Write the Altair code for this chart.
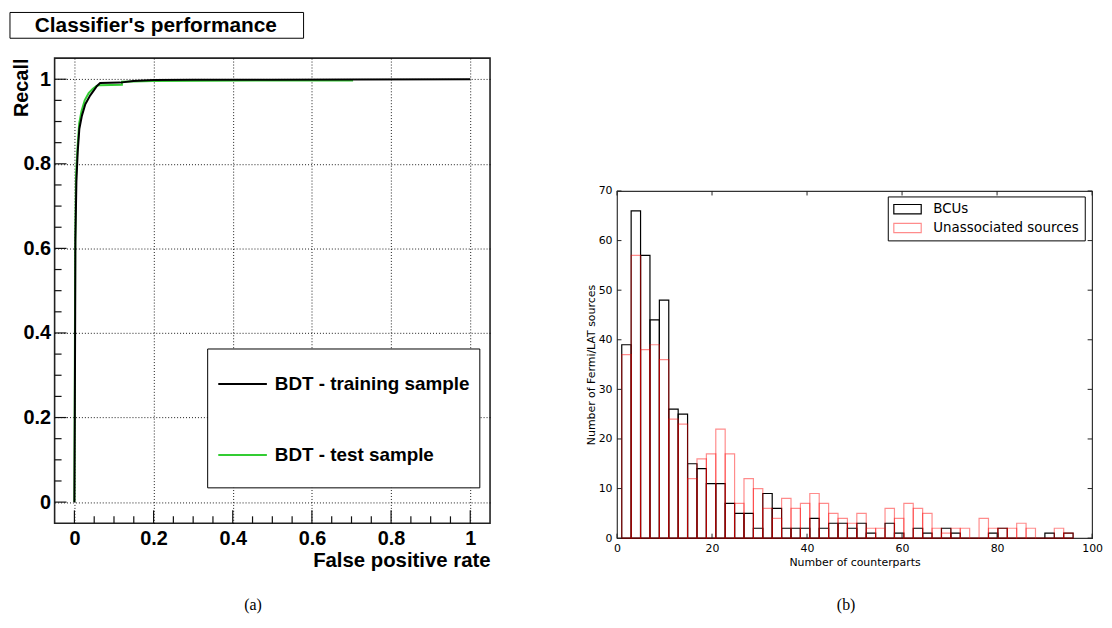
import altair as alt
import pandas as pd

# ---------------- left panel: ROC curves ----------------
title_left = "Classifier's performance"
roc_series = ["BDT - training sample", "BDT - test sample"]
roc_colors = ["#000000", "#33cc33"]

train_fpr = [0.0, 0.001, 0.002, 0.0025, 0.005, 0.0083, 0.0125, 0.019, 0.0275, 0.04, 0.05,
             0.057, 0.065, 0.115, 0.149, 0.2, 0.3, 0.5, 0.7, 1.0]
train_tpr = [0.0, 0.2, 0.45, 0.62, 0.757, 0.828, 0.883, 0.914, 0.941, 0.962, 0.975,
             0.984, 0.991, 0.992, 0.996, 0.998, 0.999, 0.999, 0.9995, 1.0]
test_fpr = [0.0, 0.001, 0.002, 0.004, 0.008, 0.012, 0.018, 0.026, 0.036, 0.046, 0.056,
            0.063, 0.12, 0.12, 0.2, 0.5, 0.704]
test_tpr = [0.0, 0.3, 0.6, 0.77, 0.84, 0.895, 0.925, 0.95, 0.967, 0.977, 0.984,
            0.986, 0.987, 0.994, 0.996, 0.997, 0.997]

roc_major = [0.0, 0.2, 0.4, 0.6, 0.8, 1.0]
roc_minor = [0.05, 0.1, 0.15, 0.25, 0.3, 0.35, 0.45, 0.5, 0.55, 0.65, 0.7, 0.75,
             0.85, 0.9, 0.95]

# ---------------- right panel: histograms ----------------
hist_series = ["BCUs", "Unassociated sources"]
hist_colors = ["#000000", "rgba(255,0,0,0.45)"]
bcu_counts = [39, 66, 57, 44, 48, 26, 25, 15, 14, 11, 11, 7, 5, 5, 2, 9, 6, 2, 2, 2, 4, 2,
              3, 3, 2, 3, 1, 0, 3, 1, 0, 2, 1, 0, 2, 1, 0, 0, 0, 1, 2, 0, 0, 0, 0, 1, 0, 1]
unassoc_counts = [37, 57, 38, 39, 36, 24, 23, 12, 16, 17, 22, 17, 7, 12, 10, 6, 4, 8, 6, 7,
                  9, 7, 5, 4, 3, 5, 2, 2, 6, 4, 7, 6, 5, 2, 1, 2, 2, 0, 4, 2, 2, 2, 3, 2,
                  0, 0, 2, 1]
hist_lo, hist_hi = 1.0, 96.0
hist_xticks = [0, 20, 40, 60, 80, 100]
hist_yticks = [0, 10, 20, 30, 40, 50, 60, 70]
hist_xlabel = "Number of counterparts"
hist_ylabel = "Number of Fermi/LAT sources"
captions = ["(a)", "(b)"]

# ---------------- tables ----------------
roc_rows = []
for i, (a, b) in enumerate(zip(test_fpr, test_tpr)):
    roc_rows.append({"fpr": a, "tpr": b, "series": roc_series[1], "idx": i})
for i, (a, b) in enumerate(zip(train_fpr, train_tpr)):
    roc_rows.append({"fpr": a, "tpr": b, "series": roc_series[0], "idx": i})
df_roc = pd.DataFrame(roc_rows)

nb = len(bcu_counts)
w = (hist_hi - hist_lo) / nb
hist_rows = []
for s, counts in zip(hist_series, [bcu_counts, unassoc_counts]):
    for k, c in enumerate(counts):
        hist_rows.append({"x0": hist_lo + k * w, "x1": hist_lo + (k + 1) * w, "n": c, "series": s})
df_hist = pd.DataFrame(hist_rows)

one = pd.DataFrame({"k": [0]})

# ---------------- left chart ----------------
W1, H1 = 439, 469
LF = "Liberation Sans"
xs1 = alt.Scale(domain=[-0.05, 1.05], nice=False, zero=False)
ys1 = alt.Scale(domain=[-0.05, 1.05], nice=False, zero=False)

xaxis1 = alt.Axis(values=roc_major, format="~g", grid=True, gridColor="black", gridDash=[1, 2],
                  gridOpacity=0.9, gridWidth=1, ticks=False, domain=False,
                  labelFont=LF, labelFontWeight="bold", labelFontSize=20, labelColor="black",
                  labelPadding=5, labelFlush=False, labelOverlap=False,
                  title="False positive rate", titleFont=LF, titleFontWeight="bold",
                  titleFontSize=20.5, titleColor="black", titleAlign="right",
                  titleAnchor="end", titleX=W1, titleY=44, titleBaseline="alphabetic")
yaxis1 = alt.Axis(values=roc_major, format="~g", grid=True, gridColor="black", gridDash=[1, 2],
                  gridOpacity=0.9, gridWidth=1, ticks=False, domain=False,
                  labelFont=LF, labelFontWeight="bold", labelFontSize=20, labelColor="black",
                  labelPadding=4, labelFlush=False, labelOverlap=False,
                  title="Recall", titleFont=LF, titleFontWeight="bold", titleFontSize=20,
                  titleColor="black", titleAngle=270, titleAlign="right", titleX=-27.3,
                  titleY=0, titleBaseline="alphabetic")

leg1 = alt.Legend(orient="none", legendX=164, legendY=303, title=None, padding=0,
                  symbolType="stroke", symbolSize=2401, symbolStrokeWidth=2,
                  labelFont=LF, labelFontWeight="bold", labelFontSize=19, labelColor="black",
                  labelOffset=7, rowPadding=35.7, labelLimit=400)

color1 = alt.Color("series:N", scale=alt.Scale(domain=roc_series, range=roc_colors), legend=leg1)

line_test = alt.Chart(df_roc).transform_filter(alt.datum.series == roc_series[1]).mark_line(
    strokeWidth=2).encode(
    x=alt.X("fpr:Q", scale=xs1, axis=xaxis1), y=alt.Y("tpr:Q", scale=ys1, axis=yaxis1),
    color=color1, order=alt.Order("idx:Q"))
line_train = alt.Chart(df_roc).transform_filter(alt.datum.series == roc_series[0]).mark_line(
    strokeWidth=2).encode(
    x=alt.X("fpr:Q", scale=xs1, axis=xaxis1), y=alt.Y("tpr:Q", scale=ys1, axis=yaxis1),
    color=color1, order=alt.Order("idx:Q"))

def xticks(vals, ln):
    return alt.Chart(pd.DataFrame({"v": vals})).mark_rule(color="#111", strokeWidth=1.2).encode(
        x=alt.X("v:Q", scale=xs1, axis=xaxis1), y=alt.value(H1), y2=alt.value(H1 - ln))

def yticks(vals, ln):
    return alt.Chart(pd.DataFrame({"v": vals})).mark_rule(color="#111", strokeWidth=1.2).encode(
        y=alt.Y("v:Q", scale=ys1, axis=yaxis1), x=alt.value(0), x2=alt.value(ln))

leg_frame1 = alt.Chart(one).mark_rect(fill="white", stroke="black", strokeWidth=1).encode(
    x=alt.value(154.3), x2=alt.value(428.7), y=alt.value(293.3), y2=alt.value(433.3))

title_box = alt.Chart(one).mark_rect(fill="white", stroke="black", strokeWidth=1).encode(
    x=alt.value(-45), x2=alt.value(251), y=alt.value(-46), y2=alt.value(-20))
title_txt = alt.Chart(one).mark_text(text=title_left, font=LF, fontWeight="bold", fontSize=21,
                                     align="center", baseline="middle", color="black").encode(
    x=alt.value(102), y=alt.value(-32.5))
cap_a = alt.Chart(one).mark_text(text=captions[0], font="Liberation Serif", fontSize=16,
                                 align="center", baseline="alphabetic", color="black").encode(
    x=alt.value(200), y=alt.value(556))

left = alt.layer(line_test, line_train, xticks(roc_major, 13), xticks(roc_minor, 7),
                 yticks(roc_major, 12), yticks(roc_minor, 7), leg_frame1,
                 title_box, title_txt, cap_a).properties(
    width=W1, height=H1, view=alt.ViewBackground(stroke="#222", strokeWidth=1.6))

# ---------------- right chart ----------------
W2, H2 = 479, 350
DF = "DejaVu Sans"
xs2 = alt.Scale(domain=[0, 100], nice=False, zero=False)
ys2 = alt.Scale(domain=[0, 70], nice=False, zero=False)

xaxis2 = alt.Axis(values=hist_xticks, ticks=False, domain=False, grid=False,
                  labelFont=DF, labelFontSize=11, labelColor="black", labelPadding=4,
                  labelFlush=False, labelOverlap=False,
                  title=hist_xlabel, titleFont=DF, titleFontSize=11, titleFontWeight="normal",
                  titleColor="black", titleX=W2 / 2, titleY=28, titleAlign="center",
                  titleBaseline="alphabetic")
yaxis2 = alt.Axis(values=hist_yticks, ticks=False, domain=False, grid=False,
                  labelFont=DF, labelFontSize=11, labelColor="black", labelPadding=5,
                  labelFlush=False, labelOverlap=False,
                  title=hist_ylabel, titleFont=DF, titleFontSize=11, titleFontWeight="normal",
                  titleColor="black", titleAngle=270, titleX=-23, titleY=H2 / 2,
                  titleAlign="center", titleBaseline="alphabetic")

leg2 = alt.Legend(orient="none", legendX=282.9, legendY=8.3, title=None, padding=0,
                  symbolType="M-1.47,-0.5H1.47V0.5H-1.47Z", symbolSize=353,
                  symbolStrokeWidth=1.2, symbolFillColor="white",
                  labelFont=DF, labelFontSize=13.5, labelColor="black", labelOffset=16,
                  rowPadding=1, labelLimit=400)

bars = alt.Chart(df_hist).mark_rect(fill="white", fillOpacity=0, strokeWidth=1.2).encode(
    x=alt.X("x0:Q", scale=xs2, axis=xaxis2), x2="x1:Q",
    y=alt.Y("n:Q", scale=ys2, axis=yaxis2), y2=alt.datum(0),
    stroke=alt.Stroke("series:N", scale=alt.Scale(domain=hist_series, range=hist_colors),
                      legend=leg2))

def hx(ybase, ln):
    return alt.Chart(pd.DataFrame({"v": hist_xticks})).mark_rule(color="#222", strokeWidth=1).encode(
        x=alt.X("v:Q", scale=xs2, axis=xaxis2), y=alt.value(ybase), y2=alt.value(ybase + ln))

def hy(xbase, ln):
    return alt.Chart(pd.DataFrame({"v": hist_yticks})).mark_rule(color="#222", strokeWidth=1).encode(
        y=alt.Y("v:Q", scale=ys2, axis=yaxis2), x=alt.value(xbase), x2=alt.value(xbase + ln))

leg_frame2 = alt.Chart(one).mark_rect(fill="white", stroke="black", strokeWidth=1).encode(
    x=alt.value(273.5), x2=alt.value(472.1), y=alt.value(6), y2=alt.value(50.3))

marker = alt.Chart(one).mark_rule(color="white", strokeWidth=1).encode(
    x=alt.value(-40), x2=alt.value(-39), y=alt.value(20), y2=alt.value(20))
cap_b = alt.Chart(one).mark_text(text=captions[1], font="Liberation Serif", fontSize=16,
                                 align="center", baseline="alphabetic", color="black").encode(
    x=alt.value(231), y=alt.value(422))

right = alt.layer(bars, hx(H2, -4.5), hx(0, 4.5), hy(0, 4.5), hy(W2, -4.5), leg_frame2,
                  marker, cap_b).properties(
    width=W2, height=H2, view=alt.ViewBackground(stroke="#333", strokeWidth=1.2))

# spacer that pushes the histogram panel down
SP = 126.5
spacer = alt.Chart(one).mark_rule(color="white", strokeWidth=1).encode(
    x=alt.value(0), y=alt.value(0), y2=alt.value(SP)).properties(
    width=W2, height=SP, view=alt.ViewBackground(stroke=None))

right_col = alt.vconcat(spacer, right, spacing=0).resolve_scale(
    stroke="independent").resolve_legend(stroke="independent")

chart = alt.hconcat(left, right_col, spacing=85).resolve_scale(
    x="independent", y="independent", color="independent", stroke="independent").resolve_legend(
    color="independent", stroke="independent").properties(
    padding=0).configure(background="white")

chart.save("out.html", embed_options={"renderer": "svg", "actions": False})
